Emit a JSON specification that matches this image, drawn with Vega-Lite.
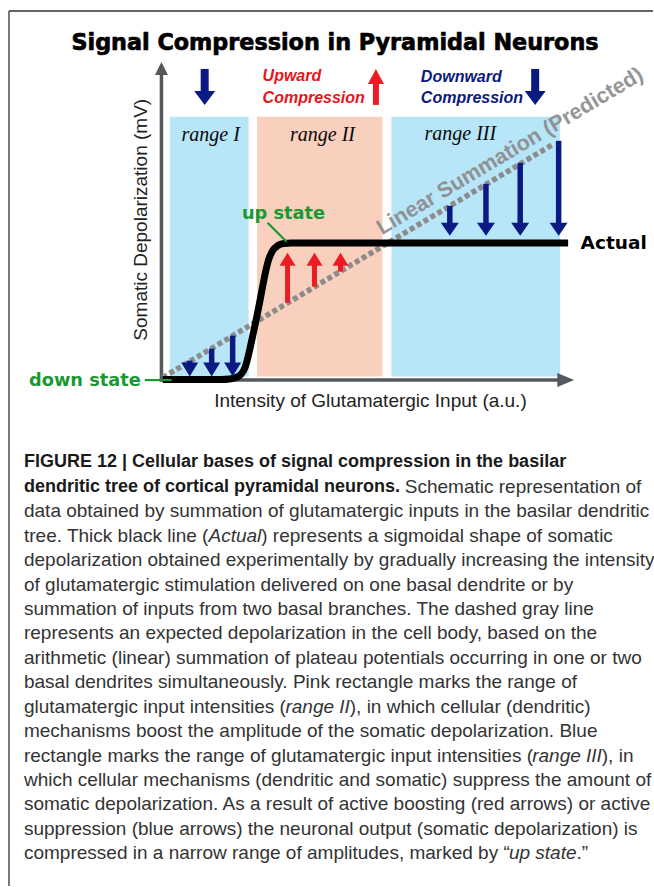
{
  "$schema": "https://vega.github.io/schema/vega-lite/v6.json",
  "width": 654,
  "height": 887,
  "autosize": {"type": "fit", "contains": "padding"},
  "padding": 0,
  "background": "white",
  "config": {"view": {"stroke": null}},
  "datasets": {
    "boxes": [
      {"r": "I", "x": 170, "x2": 249, "y": 117, "y2": 377},
      {"r": "II", "x": 257.5, "x2": 383, "y": 117, "y2": 377},
      {"r": "III", "x": 392, "x2": 561, "y": 117, "y2": 377}
    ],
    "lines": [
      {"k": "frame", "x": 9, "x2": 654, "y": 11, "y2": 11},
      {"k": "frame", "x": 9, "x2": 9, "y": 11, "y2": 887},
      {"k": "axis", "x": 161.7, "x2": 161.7, "y": 382, "y2": 72},
      {"k": "axis", "x": 160, "x2": 562, "y": 380.5, "y2": 380.5},
      {"k": "lead", "x": 268, "x2": 287, "y": 223, "y2": 242},
      {"k": "lead", "x": 145, "x2": 172, "y": 380.5, "y2": 380.5}
    ],
    "axisHeads": [
      {"d": "up", "x": 161.7, "y": 62},
      {"d": "right", "x": 575, "y": 380.5}
    ],
    "dash": [
      {"x": 163, "y": 378},
      {"x": 553, "y": 145}
    ],
    "curve": [
      {"x": 163, "y": 380}, {"x": 222, "y": 380}, {"x": 230, "y": 379.5}, {"x": 236, "y": 378},
      {"x": 241, "y": 375}, {"x": 245, "y": 369}, {"x": 248, "y": 359}, {"x": 251, "y": 346},
      {"x": 254, "y": 332}, {"x": 257, "y": 318}, {"x": 260, "y": 303}, {"x": 263, "y": 287},
      {"x": 266, "y": 272}, {"x": 269, "y": 260}, {"x": 273, "y": 251}, {"x": 278, "y": 246},
      {"x": 284, "y": 243.8}, {"x": 292, "y": 243.3}, {"x": 569, "y": 243.3}
    ],
    "arrows": [
      {"g": "blueTop", "x": 205, "y": 69, "y2": 105},
      {"g": "blueTop", "x": 536, "y": 69, "y2": 105},
      {"g": "redTop", "x": 376.5, "y": 105, "y2": 69},
      {"g": "blueIII", "x": 450.5, "y": 206, "y2": 236},
      {"g": "blueIII", "x": 486.7, "y": 184, "y2": 236},
      {"g": "blueIII", "x": 521, "y": 163, "y2": 236},
      {"g": "blueIII", "x": 559.5, "y": 141, "y2": 236},
      {"g": "blueI", "x": 190, "y": 361, "y2": 377},
      {"g": "blueI", "x": 212, "y": 349, "y2": 377},
      {"g": "blueI", "x": 233, "y": 336, "y2": 377},
      {"g": "redII", "x": 288, "y": 303, "y2": 253},
      {"g": "redII", "x": 315, "y": 287, "y2": 253},
      {"g": "redII", "x": 341, "y": 272, "y2": 253}
    ],
    "labels": [
      {"id": "title", "x": 335.5, "y": 43, "t": "Signal Compression in Pyramidal Neurons"},
      {"id": "range", "x": 211, "y": 135, "t": "range I"},
      {"id": "range", "x": 323, "y": 135, "t": "range II"},
      {"id": "range", "x": 461, "y": 134, "t": "range III"},
      {"id": "up", "x": 263, "y": 76, "t": "Upward"},
      {"id": "up", "x": 263, "y": 98, "t": "Compression"},
      {"id": "down", "x": 421.5, "y": 77, "t": "Downward"},
      {"id": "down", "x": 421.5, "y": 98.5, "t": "Compression"},
      {"id": "green", "x": 284, "y": 214, "t": "up state"},
      {"id": "green", "x": 85, "y": 381, "t": "down state"},
      {"id": "actual", "x": 581.5, "y": 243, "t": "Actual"},
      {"id": "xt", "x": 371, "y": 401, "t": "Intensity of Glutamatergic Input (a.u.)"},
      {"id": "yt", "x": 141, "y": 220, "t": "Somatic Depolarization (mV)"},
      {"id": "lin", "x": 511, "y": 152, "t": "Linear Summation (Predicted)"}
    ],
    "caption": [
      {"s": "b", "x": 24, "y": 463, "t": "FIGURE 12 | Cellular bases of signal compression in the basilar"},
      {"s": "b", "x": 24, "y": 487.5, "t": "dendritic tree of cortical pyramidal neurons."},
      {"s": "r", "x": 405.4, "y": 487.5, "t": "Schematic representation of"},
      {"s": "r", "x": 24, "y": 511.9, "t": "data obtained by summation of glutamatergic inputs in the basilar dendritic"},
      {"s": "r", "x": 24, "y": 536.4, "t": "tree. Thick black line ("},
      {"s": "i", "x": 208.8, "y": 536.4, "t": "Actual"},
      {"s": "r", "x": 261.6, "y": 536.4, "t": ") represents a sigmoidal shape of somatic"},
      {"s": "r", "x": 24, "y": 560.8, "t": "depolarization obtained experimentally by gradually increasing the intensity"},
      {"s": "r", "x": 24, "y": 585.3, "t": "of glutamatergic stimulation delivered on one basal dendrite or by"},
      {"s": "r", "x": 24, "y": 609.7, "t": "summation of inputs from two basal branches. The dashed gray line"},
      {"s": "r", "x": 24, "y": 634.2, "t": "represents an expected depolarization in the cell body, based on the"},
      {"s": "r", "x": 24, "y": 658.6, "t": "arithmetic (linear) summation of plateau potentials occurring in one or two"},
      {"s": "r", "x": 24, "y": 683.1, "t": "basal dendrites simultaneously. Pink rectangle marks the range of"},
      {"s": "r", "x": 24, "y": 707.5, "t": "glutamatergic input intensities ("},
      {"s": "i", "x": 285.9, "y": 707.5, "t": "range II"},
      {"s": "r", "x": 350.3, "y": 707.5, "t": "), in which cellular (dendritic)"},
      {"s": "r", "x": 24, "y": 732, "t": "mechanisms boost the amplitude of the somatic depolarization. Blue"},
      {"s": "r", "x": 24, "y": 756.4, "t": "rectangle marks the range of glutamatergic input intensities ("},
      {"s": "i", "x": 533.0, "y": 756.4, "t": "range III"},
      {"s": "r", "x": 602.7, "y": 756.4, "t": "), in"},
      {"s": "r", "x": 24, "y": 780.9, "t": "which cellular mechanisms (dendritic and somatic) suppress the amount of"},
      {"s": "r", "x": 24, "y": 805.3, "t": "somatic depolarization. As a result of active boosting (red arrows) or active"},
      {"s": "r", "x": 24, "y": 829.8, "t": "suppression (blue arrows) the neuronal output (somatic depolarization) is"},
      {"s": "r", "x": 24, "y": 854.2, "t": "compressed in a narrow range of amplitudes, marked by “"},
      {"s": "i", "x": 509.7, "y": 854.2, "t": "up state"},
      {"s": "r", "x": 577.3, "y": 854.2, "t": ".”"}
    ]
  },
  "encoding": {
    "x": {"field": "x", "type": "quantitative", "scale": {"domain": [0, 654], "nice": false, "zero": false}, "axis": null},
    "y": {"field": "y", "type": "quantitative", "scale": {"domain": [0, 887], "reverse": true, "nice": false, "zero": false}, "axis": null}
  },
  "layer": [
    {"data": {"name": "boxes"}, "transform": [{"filter": "datum.r !== 'II'"}],
     "mark": {"type": "rect", "color": "#b8e6f9"},
     "encoding": {"x2": {"field": "x2"}, "y2": {"field": "y2"}}},
    {"data": {"name": "boxes"}, "transform": [{"filter": "datum.r === 'II'"}],
     "mark": {"type": "rect", "color": "#f9cfbd"},
     "encoding": {"x2": {"field": "x2"}, "y2": {"field": "y2"}}},
    {"data": {"name": "lines"}, "transform": [{"filter": "datum.k === 'frame'"}],
     "mark": {"type": "rule", "color": "#333333", "strokeWidth": 1.3},
     "encoding": {"x2": {"field": "x2"}, "y2": {"field": "y2"}}},
    {"data": {"name": "lines"}, "transform": [{"filter": "datum.k === 'axis'"}],
     "mark": {"type": "rule", "color": "#55585c", "strokeWidth": 3.5},
     "encoding": {"x2": {"field": "x2"}, "y2": {"field": "y2"}}},
    {"data": {"name": "axisHeads"}, "transform": [{"filter": "datum.d === 'up'"}],
     "mark": {"type": "point", "shape": "M-1,2L1,2L0,0Z", "size": 169, "filled": true, "opacity": 1, "color": "#55585c", "strokeWidth": 0}},
    {"data": {"name": "axisHeads"}, "transform": [{"filter": "datum.d === 'right'"}],
     "mark": {"type": "point", "shape": "M-2.4,-1L-2.4,1L0,0Z", "size": 196, "filled": true, "opacity": 1, "color": "#55585c", "strokeWidth": 0}},
    {"data": {"name": "dash"},
     "mark": {"type": "line", "color": "#8c8c8c", "strokeWidth": 5.5, "strokeDash": [5, 3]}},
    {"data": {"name": "labels"}, "transform": [{"filter": "datum.id === 'lin'"}],
     "mark": {"type": "text", "font": "Liberation Sans", "fontWeight": "bold", "fontSize": 21.5, "angle": -30.8, "align": "center", "baseline": "middle", "color": "#8a8a8a", "opacity": 0.9},
     "encoding": {"text": {"field": "t"}}},
    {"data": {"name": "curve"},
     "mark": {"type": "line", "color": "#000000", "strokeWidth": 7, "interpolate": "monotone", "strokeJoin": "round"}},
    {"data": {"name": "lines"}, "transform": [{"filter": "datum.k === 'lead'"}],
     "mark": {"type": "rule", "color": "#1a9933", "strokeWidth": 2.2},
     "encoding": {"x2": {"field": "x2"}, "y2": {"field": "y2"}}},
    {"data": {"name": "arrows"}, "transform": [{"filter": "datum.g === 'blueTop'"}],
     "mark": {"type": "rule", "color": "#0b1a83", "strokeWidth": 8, "y2Offset": -10},
     "encoding": {"y2": {"field": "y2"}}},
    {"data": {"name": "arrows"}, "transform": [{"filter": "datum.g === 'blueTop'"}],
     "mark": {"type": "point", "shape": "M-1,-1.333L1,-1.333L0,0Z", "size": 441, "filled": true, "opacity": 1, "color": "#0b1a83", "strokeWidth": 0},
     "encoding": {"y": {"field": "y2", "type": "quantitative", "scale": {"domain": [0, 887], "reverse": true, "nice": false, "zero": false}, "axis": null}}},
    {"data": {"name": "arrows"}, "transform": [{"filter": "datum.g === 'redTop'"}],
     "mark": {"type": "rule", "color": "#ec1c24", "strokeWidth": 6, "y2Offset": 11},
     "encoding": {"y2": {"field": "y2"}}},
    {"data": {"name": "arrows"}, "transform": [{"filter": "datum.g === 'redTop'"}],
     "mark": {"type": "point", "shape": "M-1,1.875L1,1.875L0,0Z", "size": 256, "filled": true, "opacity": 1, "color": "#ec1c24", "strokeWidth": 0},
     "encoding": {"y": {"field": "y2", "type": "quantitative", "scale": {"domain": [0, 887], "reverse": true, "nice": false, "zero": false}, "axis": null}}},
    {"data": {"name": "arrows"}, "transform": [{"filter": "datum.g === 'blueIII'"}],
     "mark": {"type": "rule", "color": "#0b1a83", "strokeWidth": 5.5, "y2Offset": -9},
     "encoding": {"y2": {"field": "y2"}}},
    {"data": {"name": "arrows"}, "transform": [{"filter": "datum.g === 'blueIII'"}],
     "mark": {"type": "point", "shape": "M-1,-1.444L1,-1.444L0,0Z", "size": 324, "filled": true, "opacity": 1, "color": "#0b1a83", "strokeWidth": 0},
     "encoding": {"y": {"field": "y2", "type": "quantitative", "scale": {"domain": [0, 887], "reverse": true, "nice": false, "zero": false}, "axis": null}}},
    {"data": {"name": "arrows"}, "transform": [{"filter": "datum.g === 'blueI'"}],
     "mark": {"type": "rule", "color": "#0b1a83", "strokeWidth": 5.5, "y2Offset": -9},
     "encoding": {"y2": {"field": "y2"}}},
    {"data": {"name": "arrows"}, "transform": [{"filter": "datum.g === 'blueI'"}],
     "mark": {"type": "point", "shape": "M-1,-1.647L1,-1.647L0,0Z", "size": 289, "filled": true, "opacity": 1, "color": "#0b1a83", "strokeWidth": 0},
     "encoding": {"y": {"field": "y2", "type": "quantitative", "scale": {"domain": [0, 887], "reverse": true, "nice": false, "zero": false}, "axis": null}}},
    {"data": {"name": "arrows"}, "transform": [{"filter": "datum.g === 'redII'"}],
     "mark": {"type": "rule", "color": "#ec1c24", "strokeWidth": 5, "y2Offset": 9},
     "encoding": {"y2": {"field": "y2"}}},
    {"data": {"name": "arrows"}, "transform": [{"filter": "datum.g === 'redII'"}],
     "mark": {"type": "point", "shape": "M-1,1.625L1,1.625L0,0Z", "size": 256, "filled": true, "opacity": 1, "color": "#ec1c24", "strokeWidth": 0},
     "encoding": {"y": {"field": "y2", "type": "quantitative", "scale": {"domain": [0, 887], "reverse": true, "nice": false, "zero": false}, "axis": null}}},
    {"data": {"name": "labels"}, "transform": [{"filter": "datum.id === 'title'"}],
     "mark": {"type": "text", "font": "DejaVu Sans", "fontWeight": "bold", "fontSize": 22.3, "align": "center", "baseline": "middle", "color": "#000000", "stroke": "#000000", "strokeWidth": 0.7},
     "encoding": {"text": {"field": "t"}}},
    {"data": {"name": "labels"}, "transform": [{"filter": "datum.id === 'range'"}],
     "mark": {"type": "text", "font": "Liberation Serif", "fontStyle": "italic", "fontSize": 20, "align": "center", "baseline": "middle", "color": "#0a0a0a"},
     "encoding": {"text": {"field": "t"}}},
    {"data": {"name": "labels"}, "transform": [{"filter": "datum.id === 'up'"}],
     "mark": {"type": "text", "font": "Liberation Sans", "fontStyle": "italic", "fontWeight": "bold", "fontSize": 16, "align": "left", "baseline": "middle", "color": "#e8141c"},
     "encoding": {"text": {"field": "t"}}},
    {"data": {"name": "labels"}, "transform": [{"filter": "datum.id === 'down'"}],
     "mark": {"type": "text", "font": "Liberation Sans", "fontStyle": "italic", "fontWeight": "bold", "fontSize": 16, "align": "left", "baseline": "middle", "color": "#0c1a7c"},
     "encoding": {"text": {"field": "t"}}},
    {"data": {"name": "labels"}, "transform": [{"filter": "datum.id === 'green'"}],
     "mark": {"type": "text", "font": "DejaVu Sans", "fontWeight": "bold", "fontSize": 17.8, "align": "center", "baseline": "middle", "color": "#1a9933"},
     "encoding": {"text": {"field": "t"}}},
    {"data": {"name": "labels"}, "transform": [{"filter": "datum.id === 'actual'"}],
     "mark": {"type": "text", "font": "DejaVu Sans", "fontWeight": "bold", "fontSize": 18.5, "align": "left", "baseline": "middle", "color": "#000000"},
     "encoding": {"text": {"field": "t"}}},
    {"data": {"name": "labels"}, "transform": [{"filter": "datum.id === 'xt'"}],
     "mark": {"type": "text", "font": "Liberation Sans", "fontSize": 19, "align": "center", "baseline": "middle", "color": "#222222"},
     "encoding": {"text": {"field": "t"}}},
    {"data": {"name": "labels"}, "transform": [{"filter": "datum.id === 'yt'"}],
     "mark": {"type": "text", "font": "Liberation Sans", "fontSize": 19, "angle": -90, "align": "center", "baseline": "middle", "color": "#222222"},
     "encoding": {"text": {"field": "t"}}},
    {"data": {"name": "caption"}, "transform": [{"filter": "datum.s === 'b'"}],
     "mark": {"type": "text", "font": "Liberation Sans", "fontWeight": "bold", "fontSize": 18, "align": "left", "baseline": "middle", "color": "#1a1a1a"},
     "encoding": {"text": {"field": "t"}}},
    {"data": {"name": "caption"}, "transform": [{"filter": "datum.s === 'r'"}],
     "mark": {"type": "text", "font": "Liberation Sans", "fontSize": 19, "align": "left", "baseline": "middle", "color": "#333333"},
     "encoding": {"text": {"field": "t"}}},
    {"data": {"name": "caption"}, "transform": [{"filter": "datum.s === 'i'"}],
     "mark": {"type": "text", "font": "Liberation Sans", "fontStyle": "italic", "fontSize": 19, "align": "left", "baseline": "middle", "color": "#333333"},
     "encoding": {"text": {"field": "t"}}}
  ]
}
